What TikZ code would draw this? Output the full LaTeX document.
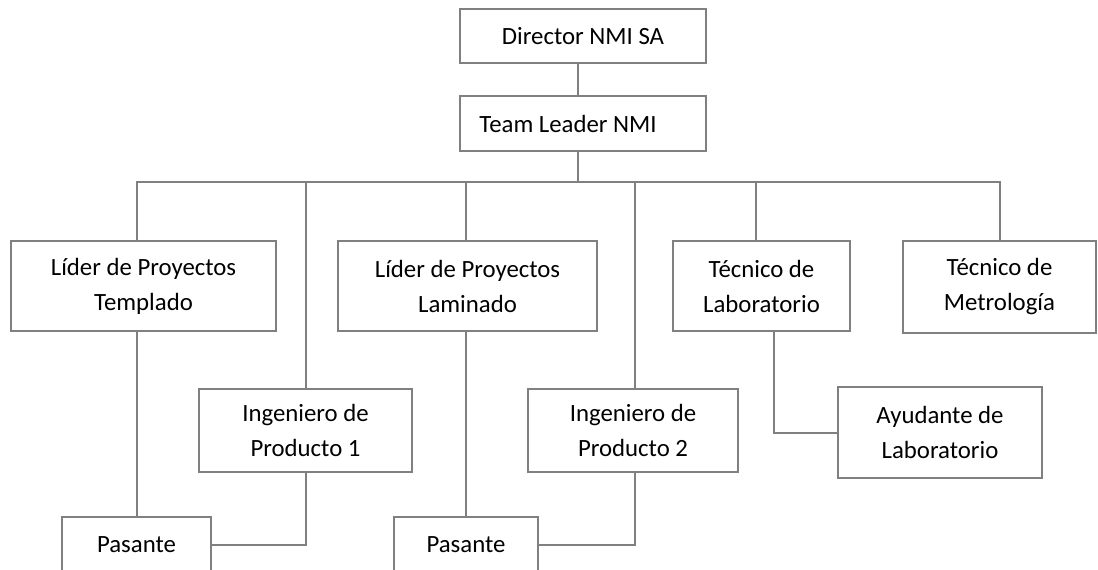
\documentclass[tikz,border=0pt]{standalone}
\usepackage{fontspec}
\setmainfont{Carlito}
\definecolor{ln}{RGB}{128,128,128}
\begin{document}
\begin{tikzpicture}
    [x=0.5pt, y=-0.5pt,
    bx/.style 2 args={draw=ln, line width=1pt, align=center, inner sep=0pt,
      minimum width=#1*0.5pt, minimum height=#2*0.5pt,
      font=\fontsize{12.4}{17.5}\selectfont},
    ed/.style={draw=ln, line width=1pt}]
    \useasboundingbox (0,0) rectangle (1098,569);
    \clip (0,0) rectangle (1098,569);
    \node[bx={246}{54}] (dir) at (583,36) {Director NMI SA};
    \node[bx={246}{55}] (tl) at (583,123.5) {\hspace*{-15pt}Team Leader NMI};
    \node[bx={265}{90}] (templ) at (143.5,286) {Líder de Proyectos\\Templado};
    \node[bx={259}{90}] (lamin) at (467.5,286) {Líder de Proyectos\\Laminado};
    \node[bx={177}{90}] (teclab) at (761.5,286) {Técnico de\\Laboratorio};
    \node[bx={193}{92}] (tecmet) at (999.5,287) {Técnico de\\Metrología};
    \node[bx={213}{83}] (ing1) at (305.5,430.5) {Ingeniero de\\Producto 1};
    \node[bx={210}{83}] (ing2) at (633,430.5) {Ingeniero de\\Producto 2};
    \node[bx={204}{91}] (ayud) at (940,432.5) {Ayudante de\\Laboratorio};
    \node[bx={149}{56}] (pas1) at (136.5,545) {Pasante};
    \node[bx={144}{56}] (pas2) at (466,545) {Pasante};
    \coordinate (trunk) at (578,182);
    \draw[ed] (dir.south -| trunk) -- (tl.north -| trunk);
    \draw[ed] (tl.south -| trunk) -- (trunk);
    \foreach \c/\d in {templ/-3.25pt, ing1/0pt, lamin/-0.75pt, ing2/1pt, teclab/-2.75pt, tecmet/0.25pt}
      \draw[ed] (trunk) -| ([xshift=\d]\c.north);
    \draw[ed] (templ.south -| pas1.north) -- (pas1.north);
    \draw[ed] (ing1.south) |- (pas1.east);
    \draw[ed] (lamin.south -| pas2.north) -- (pas2.north);
    \draw[ed] ([xshift=1pt]ing2.south) |- (pas2.east);
    \draw[ed] ([xshift=6.25pt]teclab.south) |- (ayud.west);
\end{tikzpicture}
\end{document}
